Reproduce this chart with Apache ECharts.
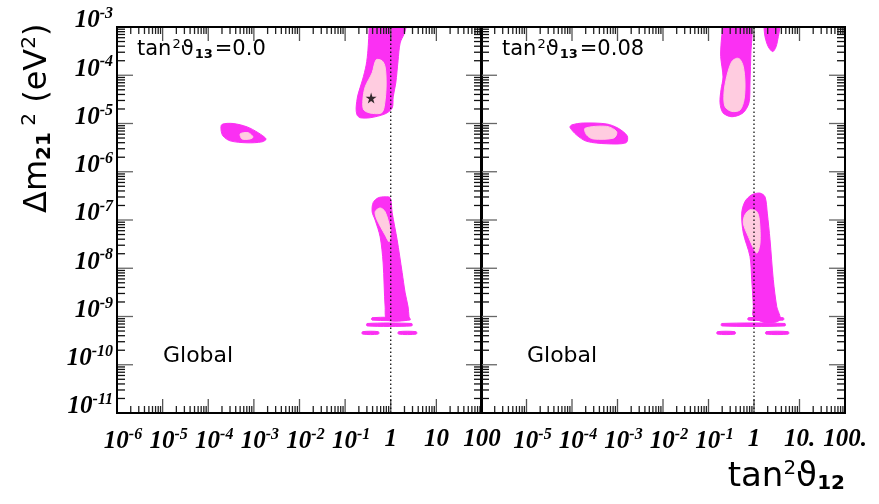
<!DOCTYPE html>
<html><head><meta charset="utf-8">
<script src="https://cdn.jsdelivr.net/npm/echarts@6/dist/echarts.min.js"></script>
<style>html,body{margin:0;padding:0;background:#fff}#c{width:879px;height:504px}</style>
</head><body><div id="c"></div>
<script>
// All coordinates are log10 values: [log10(tan^2 theta12), log10(dm21^2 / eV^2)]
const xTicks = [-6, -5, -4, -3, -2, -1, 0, 1, 2];
const yTicks = [-11, -10, -9, -8, -7, -6, -5, -4, -3];
const xLabelsLeft = ['10^-6', '10^-5', '10^-4', '10^-3', '10^-2', '10^-1', '1', '10', '100'];
const xLabelsRight = ['', '10^-5', '10^-4', '10^-3', '10^-2', '10^-1', '1', '10.', '100.'];
const yLabels = ['10^-11', '10^-10', '10^-9', '10^-8', '10^-7', '10^-6', '10^-5', '10^-4', '10^-3'];
const panelTitles = ['0.0', '0.08'];
const bestFitLeft = [[-0.43, -4.47]];

// ---- Left panel (tan^2 theta13 = 0.0), 90% (outer) and 68% (inner) regions ----
const L_lmaOuter = [[-0.48,-2.85],[0.34,-2.85],[0.338,-3.0],[0.29,-3.15],[0.206,-3.33],[0.16,-3.7],[0.11,-4.16],[0.053,-4.45],[0.031,-4.68],[-0.123,-4.8],[-0.45,-4.88],[-0.671,-4.88],[-0.74,-4.82],[-0.759,-4.68],[-0.72,-4.41],[-0.62,-4.10],[-0.539,-3.79],[-0.50,-3.48],[-0.474,-3.0]];
const L_lmaInner = [[-0.32,-3.68],[-0.408,-3.95],[-0.56,-4.24],[-0.61,-4.51],[-0.59,-4.72],[-0.408,-4.79],[-0.19,-4.77],[-0.123,-4.51],[-0.101,-4.16],[-0.123,-3.83],[-0.19,-3.7]];
const L_smaOuter = [[-3.70,-5.02],[-3.456,-5.0],[-3.149,-5.07],[-2.908,-5.19],[-2.732,-5.32],[-2.82,-5.38],[-3.149,-5.40],[-3.52,-5.36],[-3.675,-5.26],[-3.72,-5.13]];
const L_smaInner = [[-3.30,-5.215],[-3.127,-5.19],[-3.018,-5.28],[-3.083,-5.32],[-3.259,-5.32]];
const L_lowOuter = [[-0.123,-6.52],[-0.013,-6.54],[0.031,-6.85],[0.14,-7.41],[0.25,-8.09],[0.316,-8.51],[0.38,-8.80],[0.40,-9.0],[0.425,-9.07],[-0.079,-9.07],[-0.123,-8.80],[-0.167,-7.89],[-0.232,-7.35],[-0.342,-7.0],[-0.408,-6.83],[-0.386,-6.64],[-0.276,-6.54]];
const L_lowInner = [[-0.232,-6.75],[-0.123,-6.83],[-0.013,-7.20],[-0.035,-7.45],[-0.123,-7.31],[-0.298,-7.0],[-0.342,-6.83]];
const L_stripes = [[-0.41,0.35,-9.05],[-0.52,0.46,-9.17],[-0.62,-0.27,-9.34],[0.17,0.56,-9.34]];

// ---- Right panel (tan^2 theta13 = 0.08) ----
const R_lmaOuter = [[-0.69,-2.85],[-0.05,-2.85],[-0.05,-3.0],[-0.044,-3.2],[-0.066,-3.48],[-0.088,-4.16],[-0.11,-4.57],[-0.242,-4.78],[-0.484,-4.86],[-0.681,-4.78],[-0.747,-4.57],[-0.725,-4.30],[-0.681,-4.035],[-0.732,-3.615],[-0.72,-3.3],[-0.688,-3.0]];
const R_lmaLobe = [[0.22,-2.85],[0.571,-2.85],[0.571,-3.0],[0.534,-3.20],[0.484,-3.41],[0.411,-3.51],[0.314,-3.41],[0.242,-3.20],[0.22,-3.0]];
const R_lmaInner = [[-0.38,-3.648],[-0.49,-3.718],[-0.60,-4.03],[-0.659,-4.37],[-0.637,-4.65],[-0.49,-4.75],[-0.308,-4.72],[-0.22,-4.51],[-0.198,-4.16],[-0.235,-3.82],[-0.308,-3.67]];
const R_smaOuter = [[-4.007,-5.03],[-3.752,-4.99],[-3.237,-5.01],[-2.982,-5.10],[-2.785,-5.26],[-2.813,-5.40],[-3.237,-5.42],[-3.677,-5.37],[-3.897,-5.24],[-4.044,-5.08]];
const R_smaInner = [[-3.714,-5.10],[-3.237,-5.06],[-3.018,-5.17],[-3.077,-5.30],[-3.532,-5.32],[-3.677,-5.24]];
const R_lowOuter = [[0.132,-6.443],[-0.05,-6.478],[-0.198,-6.617],[-0.27,-6.857],[-0.235,-7.271],[-0.088,-7.756],[-0.05,-8.238],[-0.015,-8.791],[-0.015,-8.998],[0.279,-9.135],[0.571,-9.066],[0.499,-8.791],[0.424,-8.238],[0.352,-7.41],[0.292,-6.857],[0.242,-6.52]];
const R_lowInner = [[-0.088,-6.789],[-0.198,-6.892],[-0.235,-7.064],[-0.125,-7.342],[0.059,-7.685],[0.132,-7.478],[0.117,-6.996],[0.059,-6.824]];
const R_stripes = [[-0.125,0.644,-9.05],[-0.71,0.681,-9.17],[-0.807,-0.418,-9.34],[0.264,0.754,-9.34]];

const MAG = '#fb30f3', PINK = '#ffcce0';
const X_MIN = -6, X_MAX = 2, Y_MIN = -11, Y_MAX = -3;

function regions(outerList, innerList, stripes) {
  const out = [];
  stripes.forEach(s => out.push({ pts: [[s[0], s[2] + 0.025], [s[1], s[2] + 0.025], [s[1], s[2] - 0.025], [s[0], s[2] - 0.025]], fill: MAG }));
  outerList.forEach(p => out.push({ pts: p, fill: MAG }));
  innerList.forEach(p => out.push({ pts: p, fill: PINK }));
  return out;
}
const leftRegions = regions([L_lmaOuter, L_smaOuter, L_lowOuter], [L_lmaInner, L_smaInner, L_lowInner], L_stripes);
const rightRegions = regions([R_lmaOuter, R_lmaLobe, R_smaOuter, R_lowOuter], [R_lmaInner, R_smaInner, R_lowInner], R_stripes);

function regionSeries(idx, list) {
  return {
    type: 'custom', xAxisIndex: idx, yAxisIndex: idx, z: 2, silent: true, clip: true,
    data: list.map((r, i) => i),
    renderItem: (params, api) => {
      const r = list[params.dataIndex];
      return { type: 'polygon', shape: { points: r.pts.map(p => api.coord(p)), smooth: 0.3 }, style: { fill: r.fill, stroke: r.fill, lineWidth: 1 } };
    }
  };
}

function frameSeries(idx) {
  return {
    type: 'custom', xAxisIndex: idx, yAxisIndex: idx, z: 5, silent: true,
    data: [0],
    renderItem: (params, api) => {
      const ch = [];
      const lb = api.coord([X_MIN, Y_MIN]), rt = api.coord([X_MAX, Y_MAX]);
      const L = lb[0], B = lb[1], R = rt[0], T = rt[1];
      const ln = (x1, y1, x2, y2, col, w) => ch.push({ type: 'line', shape: { x1, y1, x2, y2 }, style: { stroke: col, lineWidth: w } });
      for (let d = X_MIN; d < X_MAX; d++) for (let m = 1; m <= 9; m++) {
        if (m === 1 && d === X_MIN) continue;
        const x = api.coord([d + Math.log10(m), Y_MIN])[0];
        const len = m === 1 ? 14 : 7, col = m === 1 ? '#555' : '#222';
        ln(x, B, x, B - len, col, 1.3); ln(x, T, x, T + len, col, 1.3);
      }
      for (let d = Y_MIN; d < Y_MAX; d++) for (let m = 1; m <= 9; m++) {
        if (m === 1 && d === Y_MIN) continue;
        const y = api.coord([X_MIN, d + Math.log10(m)])[1];
        const len = m === 1 ? 16 : 8, col = m === 1 ? '#666' : '#111';
        ln(L, y, L + len, y, col, 1.3); ln(R, y, R - len, y, col, 1.3);
      }
      // tan^2 theta12 = 1 reference
      const x1 = api.coord([0, Y_MIN])[0];
      ch.push({ type: 'line', shape: { x1: x1, y1: B, x2: x1, y2: T }, style: { stroke: '#000', lineWidth: 1.2, lineDash: [1.5, 2.5] } });
      ch.push({ type: 'rect', shape: { x: L, y: T, width: R - L, height: B - T }, style: { fill: null, stroke: '#000', lineWidth: 2 } });
      return { type: 'group', children: ch };
    }
  };
}

function fmtLabel(s) {
  if (s.indexOf('^') < 0) return '{b|' + s + '}';
  const p = s.split('^');
  return '{b|' + p[0] + '}{s|' + p[1] + '}';
}
const labRich = {
  b: { fontFamily: 'Liberation Serif', fontStyle: 'italic', fontWeight: 'bold', fontSize: 25, color: '#000' },
  s: { fontFamily: 'Liberation Serif', fontStyle: 'italic', fontWeight: 'bold', fontSize: 16, color: '#000', padding: [0, 0, 14, 0] }
};

function xAxis(idx, labels) {
  return {
    type: 'value', gridIndex: idx, min: X_MIN, max: X_MAX, interval: 1,
    axisLine: { show: false }, axisTick: { show: false }, splitLine: { show: false },
    axisLabel: {
      show: true, margin: 14, showMinLabel: true, showMaxLabel: true,
      formatter: v => { const i = xTicks.indexOf(Math.round(v)); const s = labels[i] || ''; return s.indexOf('^') >= 0 ? '{p|}' + fmtLabel(s) : fmtLabel(s); },
      rich: Object.assign({ p: { width: 12 } }, labRich)
    }
  };
}
function yAxis(idx, show) {
  return {
    type: 'value', gridIndex: idx, min: Y_MIN, max: Y_MAX, interval: 1,
    axisLine: { show: false }, axisTick: { show: false }, splitLine: { show: false },
    axisLabel: {
      show: show, margin: 4, showMinLabel: true, showMaxLabel: true,
      formatter: v => { const i = yTicks.indexOf(Math.round(v)); return fmtLabel(yLabels[i]); },
      rich: labRich, padding: [0, 0, 12, 0]
    }
  };
}

const chart = echarts.init(document.getElementById('c'), null, { renderer: 'canvas' });
const sansT = { fontFamily: 'DejaVu Sans', color: '#000' };
function panelText(val) {
  return { text: '{a|tan}{s|2}{a|ϑ}{u|13}{a|=' + val + '}', rich: {
    a: Object.assign({ fontSize: 21 }, sansT), s: Object.assign({ fontSize: 13, padding: [0, 0, 11, 1] }, sansT),
    u: Object.assign({ fontSize: 13, fontWeight: 'bold', padding: [9, 2, 0, 1] }, sansT) } };
}
chart.setOption({
  animation: false,
  backgroundColor: '#fff',
  grid: [
    { left: 117, top: 27, width: 365, height: 386 },
    { left: 481, top: 27, width: 364, height: 386 }
  ],
  xAxis: [xAxis(0, xLabelsLeft), xAxis(1, xLabelsRight)],
  yAxis: [yAxis(0, true), yAxis(1, false)],
  series: [
    regionSeries(0, leftRegions),
    regionSeries(1, rightRegions),
    frameSeries(0),
    frameSeries(1),
    {
      type: 'scatter', xAxisIndex: 0, yAxisIndex: 0, z: 6, silent: true,
      data: bestFitLeft, symbolSize: 11, itemStyle: { color: '#000' },
      symbol: 'path://M50,0 L61,35 L98,35 L68,57 L79,91 L50,70 L21,91 L32,57 L2,35 L39,35 Z'
    }
  ],
  graphic: [
    { type: 'text', left: 137, top: 38, z: 10, style: panelText(panelTitles[0]) },
    { type: 'text', left: 502, top: 38, z: 10, style: panelText(panelTitles[1]) },
    { type: 'text', left: 163, top: 345, z: 10, style: Object.assign({ text: 'Global', fontSize: 22 }, sansT, { fill: '#000' }) },
    { type: 'text', left: 527, top: 345, z: 10, style: Object.assign({ text: 'Global', fontSize: 22 }, sansT, { fill: '#000' }) },
    { type: 'text', right: 34, top: 459, z: 10, style: { text: '{a|tan}{s|2}{a|ϑ}{u|12}', rich: {
      a: Object.assign({ fontSize: 34 }, sansT), s: Object.assign({ fontSize: 20, padding: [0, 0, 16, 0] }, sansT), u: Object.assign({ fontSize: 20, fontWeight: 'bold', padding: [14, 0, 0, 0] }, sansT) } } },
    { type: 'text', x: 20, y: 213, rotation: Math.PI / 2, z: 10, style: { text: '{a|Δm}{u|21}{s| 2}{a| (eV}{s|2}{a|)}', rich: {
      a: Object.assign({ fontSize: 32 }, sansT), s: Object.assign({ fontSize: 20, padding: [0, 0, 16, 0] }, sansT), u: Object.assign({ fontSize: 20, fontWeight: 'bold', padding: [14, 0, 0, 0] }, sansT) } } }
  ]
});
</script></body></html>
